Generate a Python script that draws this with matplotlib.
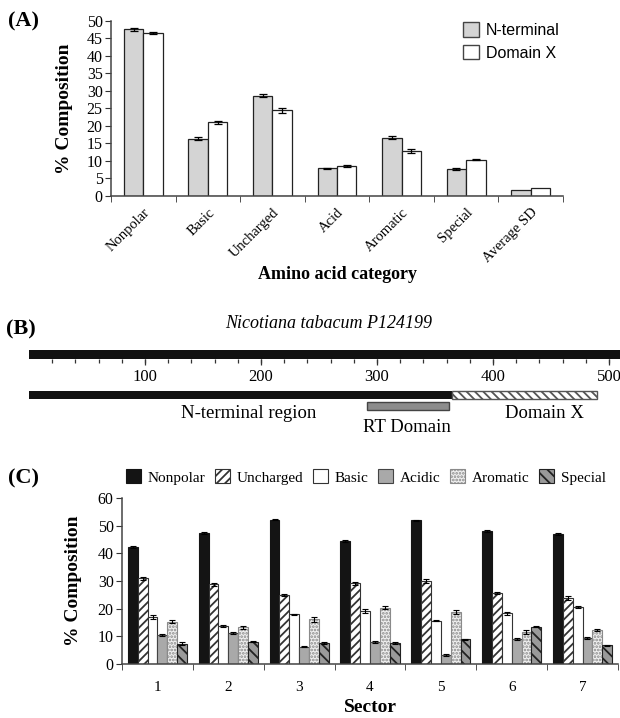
import numpy as np
import matplotlib
matplotlib.use('Agg')
import matplotlib.pyplot as plt
from matplotlib.patches import Patch

plt.rcParams['font.family'] = ['Liberation Serif', 'DejaVu Serif']
plt.rcParams['hatch.linewidth'] = 1.3

W, H = 620, 718

# panel A data
cat_a = ['Nonpolar', 'Basic', 'Uncharged', 'Acid', 'Aromatic', 'Special', 'Average SD']
nterm = [47.5, 16.4, 28.6, 7.9, 16.6, 7.7, 1.7]
nterm_err = [0.4, 0.3, 0.4, 0.2, 0.4, 0.25]
domx = [46.5, 21.0, 24.4, 8.5, 12.9, 10.4, 2.2]
domx_err = [0.3, 0.35, 0.6, 0.35, 0.6, 0.25]

# panel B data
seq_len = 490
nterm_end = 365
rt_start, rt_end = 291, 362
b_ticks = [100, 200, 300, 400, 500]

# panel C data
sectors = ['1', '2', '3', '4', '5', '6', '7']
groups_c = ['Nonpolar', 'Uncharged', 'Basic', 'Acidic', 'Aromatic', 'Special']
nonpolar = [42.4, 47.3, 52.2, 44.6, 51.9, 48.1, 46.9]
uncharged = [31.0, 28.8, 24.8, 29.2, 30.1, 25.7, 23.9]
basic = [17.0, 13.8, 17.9, 19.2, 15.7, 18.3, 20.6]
acidic = [10.6, 11.1, 6.2, 8.0, 3.2, 8.9, 9.5]
aromatic = [15.3, 13.3, 16.1, 20.4, 18.9, 11.6, 12.4]
special = [7.4, 8.1, 7.6, 7.7, 8.9, 13.4, 6.8]
err_c = [
    [0.4, 0.4, 0.3, 0.4, 0.3, 0.4, 0.3],
    [0.5, 0.6, 0.4, 0.5, 0.7, 0.5, 0.7],
    [0.6, 0.3, 0.3, 0.6, 0.3, 0.5, 0.4],
    [0.4, 0.4, 0.2, 0.3, 0.3, 0.4, 0.4],
    [0.5, 0.6, 0.8, 0.4, 0.7, 0.6, 0.4],
    [0.5, 0.2, 0.5, 0.3, 0.2, 0.2, 0.2],
]


def rect(left, top, right, bottom):
    return [left / W, 1 - bottom / H, (right - left) / W, (bottom - top) / H]


def ftext(x, y, s, **kw):
    fig.text(x / W, 1 - y / H, s, **kw)


fig = plt.figure(figsize=(W / 100, H / 100), dpi=100)

# ---------------- (A)
ax = fig.add_axes(rect(111, 20.7, 563, 196))
xa = np.arange(len(cat_a)) + 0.5
bw = 0.3
ax.bar(xa - bw / 2, nterm, bw, color='#d4d4d4', edgecolor='#222', lw=0.9)
ax.bar(xa + bw / 2, domx, bw, color='white', edgecolor='#222', lw=0.9)
ax.errorbar(xa[:6] - bw / 2, nterm[:6], yerr=nterm_err, fmt='none',
            ecolor='black', capsize=3, elinewidth=0.9, capthick=0.9)
ax.errorbar(xa[:6] + bw / 2, domx[:6], yerr=domx_err, fmt='none',
            ecolor='black', capsize=3, elinewidth=0.9, capthick=0.9)
ax.set_xlim(0, 7)
ax.set_ylim(0, 50)
ax.set_yticks(range(0, 51, 5))
ax.set_xticks(xa)
ax.set_xticklabels(cat_a, rotation=45, ha='right', va='top',
                   rotation_mode='anchor', fontsize=10.5)
ax.set_xticks(np.arange(0, 8), minor=True)
ax.tick_params(axis='x', which='major', length=0, pad=7)
ax.tick_params(axis='x', which='minor', length=4, direction='out', color='#333')
ax.tick_params(axis='y', length=4, color='#333', labelsize=11.5, pad=2)
for s in ['top', 'right']:
    ax.spines[s].set_visible(False)
for s in ['left', 'bottom']:
    ax.spines[s].set_color('#444')
    ax.spines[s].set_linewidth(1.1)
ax.set_ylabel('% Composition', fontsize=14, fontweight='bold', labelpad=10)
ax.set_xlabel('Amino acid category', fontsize=13, fontweight='bold', labelpad=1)

handles_a = [Patch(facecolor='#d4d4d4', edgecolor='#444', label='N-terminal'),
             Patch(facecolor='white', edgecolor='#444', label='Domain X')]
fig.legend(handles=handles_a, loc='upper left', bbox_to_anchor=(449 / W, 1 - 8 / H),
           frameon=False, prop={'family': 'Liberation Sans', 'size': 11.5},
           handlelength=1.0, handleheight=1.0, handletextpad=0.4, labelspacing=0.45)

ftext(8, 21, '(A)', fontsize=16, fontweight='bold', va='center', ha='left')

# ---------------- (B)
axb = fig.add_axes(rect(0, 305, 620, 445))
axb.set_xlim(-29 / 1.16, 591 / 1.16)
axb.set_ylim(445, 305)
axb.axis('off')
axb.barh(354.5, 600, left=0, height=9, color='#111111')
minor = np.arange(20, 501, 20)
axb.vlines(minor, 359, 362.5, color='#333', lw=0.9)
axb.vlines(b_ticks, 359, 365, color='#333', lw=0.9)
for t in b_ticks:
    axb.text(t, 377, str(t), ha='center', va='center', fontsize=12)
axb.barh(395, nterm_end, left=0, height=8.5, color='#111111')
axb.barh(395, seq_len - nterm_end, left=nterm_end, height=8.5, facecolor='white',
         edgecolor='#555', hatch='\\\\\\\\', lw=1.0)
axb.barh(406, rt_end - rt_start, left=rt_start, height=8, facecolor='#8c8c8c',
         edgecolor='#444', lw=1.0)
axb.text(189, 413, 'N-terminal region', ha='center', va='center', fontsize=13.5)
axb.text(326, 428, 'RT Domain', ha='center', va='center', fontsize=13.5)
axb.text(444, 413, 'Domain X', ha='center', va='center', fontsize=13.5)
ftext(329, 323, 'Nicotiana tabacum P124199', ha='center', va='center',
      fontsize=13, style='italic')
ftext(6, 329, '(B)', fontsize=16, fontweight='bold', va='center', ha='left')

# ---------------- (C)
axc = fig.add_axes(rect(122, 498, 618, 664))
xc = np.arange(len(sectors)) + 0.5
w = 0.139
series_c = [nonpolar, uncharged, basic, acidic, aromatic, special]
styles = [
    dict(facecolor='#141414', edgecolor='#141414'),
    dict(facecolor='white', edgecolor='#333', hatch='////'),
    dict(facecolor='white', edgecolor='#333'),
    dict(facecolor='#a9a9a9', edgecolor='#444'),
    dict(facecolor='#f0f0f0', edgecolor='#8a8a8a', hatch='.....'),
    dict(facecolor='#9a9a9a', edgecolor='#222', hatch='\\\\\\'),
]
handles_c = []
for i, (vals, st) in enumerate(zip(series_c, styles)):
    pos = xc + (i - 2.5) * w
    axc.bar(pos, vals, w, lw=0.8, **st)
    axc.errorbar(pos, vals, yerr=err_c[i], fmt='none', ecolor='black',
                 capsize=2.5, elinewidth=0.8, capthick=0.8)
    handles_c.append(Patch(lw=0.8, label=groups_c[i], **st))
axc.set_xlim(0, 7)
axc.set_ylim(0, 60)
axc.set_yticks(range(0, 61, 10))
axc.set_xticks(xc)
axc.set_xticklabels(sectors, fontsize=11)
axc.set_xticks(np.arange(0, 8), minor=True)
axc.tick_params(axis='x', which='major', length=0, pad=12)
axc.tick_params(axis='x', which='minor', length=4, direction='out', color='#333')
axc.tick_params(axis='y', length=4, color='#333', labelsize=11.5, pad=2)
for s in ['top', 'right']:
    axc.spines[s].set_visible(False)
for s in ['left', 'bottom']:
    axc.spines[s].set_color('#444')
    axc.spines[s].set_linewidth(1.1)
axc.set_ylabel('% Composition', fontsize=14, fontweight='bold', labelpad=11)
axc.set_xlabel('Sector', fontsize=14, fontweight='bold', labelpad=4)

fig.legend(handles=handles_c, loc='center', bbox_to_anchor=(366 / W, 1 - 477 / H),
           ncol=6, frameon=False, prop={'size': 11}, handlelength=1.0,
           handleheight=1.0, handletextpad=0.45, columnspacing=0.6)

ftext(8, 478, '(C)', fontsize=16, fontweight='bold', va='center', ha='left')

fig.savefig('out.png', dpi=100)
